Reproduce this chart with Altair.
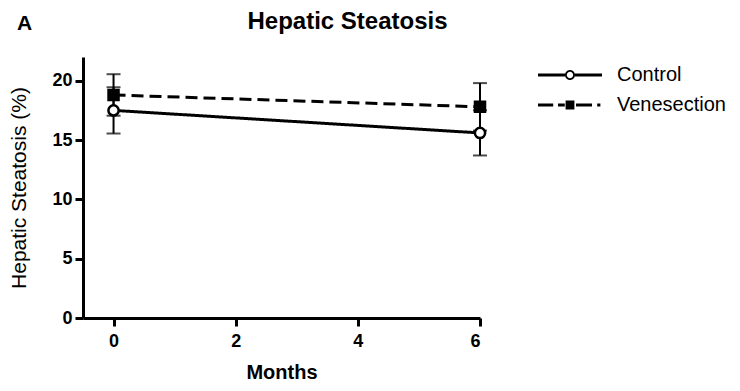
import altair as alt
import pandas as pd

# ---- data ----
months = [0, 6]
groups = ["Control", "Venesection"]
control_mean = [17.5, 15.6]
control_err = [1.95, 1.9]
vene_mean = [18.8, 17.8]
vene_err = [1.75, 2.0]
x_ticks = [0, 2, 4, 6]
y_ticks = [0, 5, 10, 15, 20]

rows = []
for g, means, errs in [("Control", control_mean, control_err),
                       ("Venesection", vene_mean, vene_err)]:
    for m, v, e in zip(months, means, errs):
        rows.append({"month": m, "group": g, "value": v,
                     "lower": v - e, "upper": v + e})
df = pd.DataFrame(rows)

FONT = "Liberation Sans"
W, H = 397, 261

x_enc = alt.X("month:Q",
              scale=alt.Scale(domain=[-0.5, 6], nice=False, zero=False),
              axis=alt.Axis(values=x_ticks, format="d", title="Months", grid=False,
                            domainWidth=3, tickWidth=3, tickSize=8,
                            labelFontSize=18, labelFontWeight="bold",
                            titleFontSize=20, titleFontWeight="bold",
                            labelPadding=6, titlePadding=12))
y_scale = alt.Scale(domain=[0, 22], nice=False)
y_enc = alt.Y("value:Q", scale=y_scale,
              axis=alt.Axis(values=y_ticks, format="d", title="Hepatic Steatosis (%)",
                            grid=False, domainWidth=3, tickWidth=3, tickSize=8,
                            labelFontSize=18, labelFontWeight="bold",
                            titleFontSize=21, titleFontWeight="normal",
                            labelPadding=3, titlePadding=22))

base = alt.Chart(df)

lines = base.mark_line(color="black", strokeWidth=3).encode(
    x=x_enc, y=y_enc,
    strokeDash=alt.StrokeDash("group:N",
                              scale=alt.Scale(domain=groups, range=[[1, 0], [12, 6]]),
                              legend=None),
    detail="group:N",
)

err_rule = base.mark_rule(color="black", strokeWidth=2).encode(
    x="month:Q", y=alt.Y("lower:Q", scale=y_scale), y2="upper:Q")
cap_lo = base.mark_tick(color="black", orient="horizontal", size=14, thickness=2).encode(
    x="month:Q", y=alt.Y("lower:Q", scale=y_scale))
cap_hi = base.mark_tick(color="black", orient="horizontal", size=14, thickness=2).encode(
    x="month:Q", y=alt.Y("upper:Q", scale=y_scale))

points = base.mark_point(filled=True, stroke="black", strokeWidth=2.5, opacity=1).encode(
    x="month:Q", y=alt.Y("value:Q", scale=y_scale),
    shape=alt.Shape("group:N", scale=alt.Scale(domain=groups, range=["circle", "square"]),
                    legend=None),
    fill=alt.condition(alt.datum.group == "Control", alt.value("white"), alt.value("black")),
    size=alt.condition(alt.datum.group == "Control", alt.value(105), alt.value(100)),
)

# legend glyphs (line + marker), built from filled shapes only
ctrl_path = ("M-4,-0.19H-0.625V0.19H-4Z"
             "M0.625,-0.19H4V0.19H0.625Z"
             "M0.625,0A0.625,0.625,0,1,1,-0.625,0A0.625,0.625,0,1,1,0.625,0Z"
             "M0.4,0A0.4,0.4,0,1,0,-0.4,0A0.4,0.4,0,1,0,0.4,0Z")
vene_path = ("M-4,-0.19H-2.1V0.19H-4Z"
             "M-1.5,-0.19H-0.65V0.19H-1.5Z"
             "M-0.55,-0.55H0.55V0.55H-0.55Z"
             "M0.75,-0.19H2.75V0.19H0.75Z"
             "M3.4,-0.19H3.8V0.19H3.4Z")

leg = alt.Legend(orient="none", legendX=477, legendY=8, title=None,
                 labelFont=FONT, labelFontSize=20, labelColor="black",
                 symbolSize=256, symbolStrokeWidth=0, symbolFillColor="black",
                 symbolOpacity=1, labelOffset=37, rowPadding=10)

legend_layer = base.mark_point(filled=True, color="black", strokeWidth=0).encode(
    x="month:Q", y=alt.Y("value:Q", scale=y_scale),
    shape=alt.Shape("group:N", scale=alt.Scale(domain=groups, range=[ctrl_path, vene_path]),
                    legend=leg),
).transform_filter("false")

panel = alt.Chart(pd.DataFrame({"t": ["A"]})).mark_text(
    font=FONT, fontSize=21, fontWeight="bold", align="left", baseline="alphabetic",
    color="black").encode(x=alt.value(-66), y=alt.value(-27), text="t:N")

chart = alt.layer(lines, err_rule, cap_lo, cap_hi, points, legend_layer, panel).resolve_scale(
    shape="independent"
).properties(
    width=W, height=H,
    title=alt.TitleParams("Hepatic Steatosis", font=FONT, fontSize=24, fontWeight="bold",
                          color="black", anchor="middle", dx=66, offset=-21),
    autosize=alt.AutoSizeParams(type="none"),
    padding={"left": 75, "top": 49, "right": 252, "bottom": 65},
).configure_view(stroke=None).configure_axis(
    labelFont=FONT, titleFont=FONT, labelColor="black", titleColor="black",
    domainColor="black", tickColor="black"
)

chart.save("out.html", embed_options={"renderer": "svg", "actions": False})
